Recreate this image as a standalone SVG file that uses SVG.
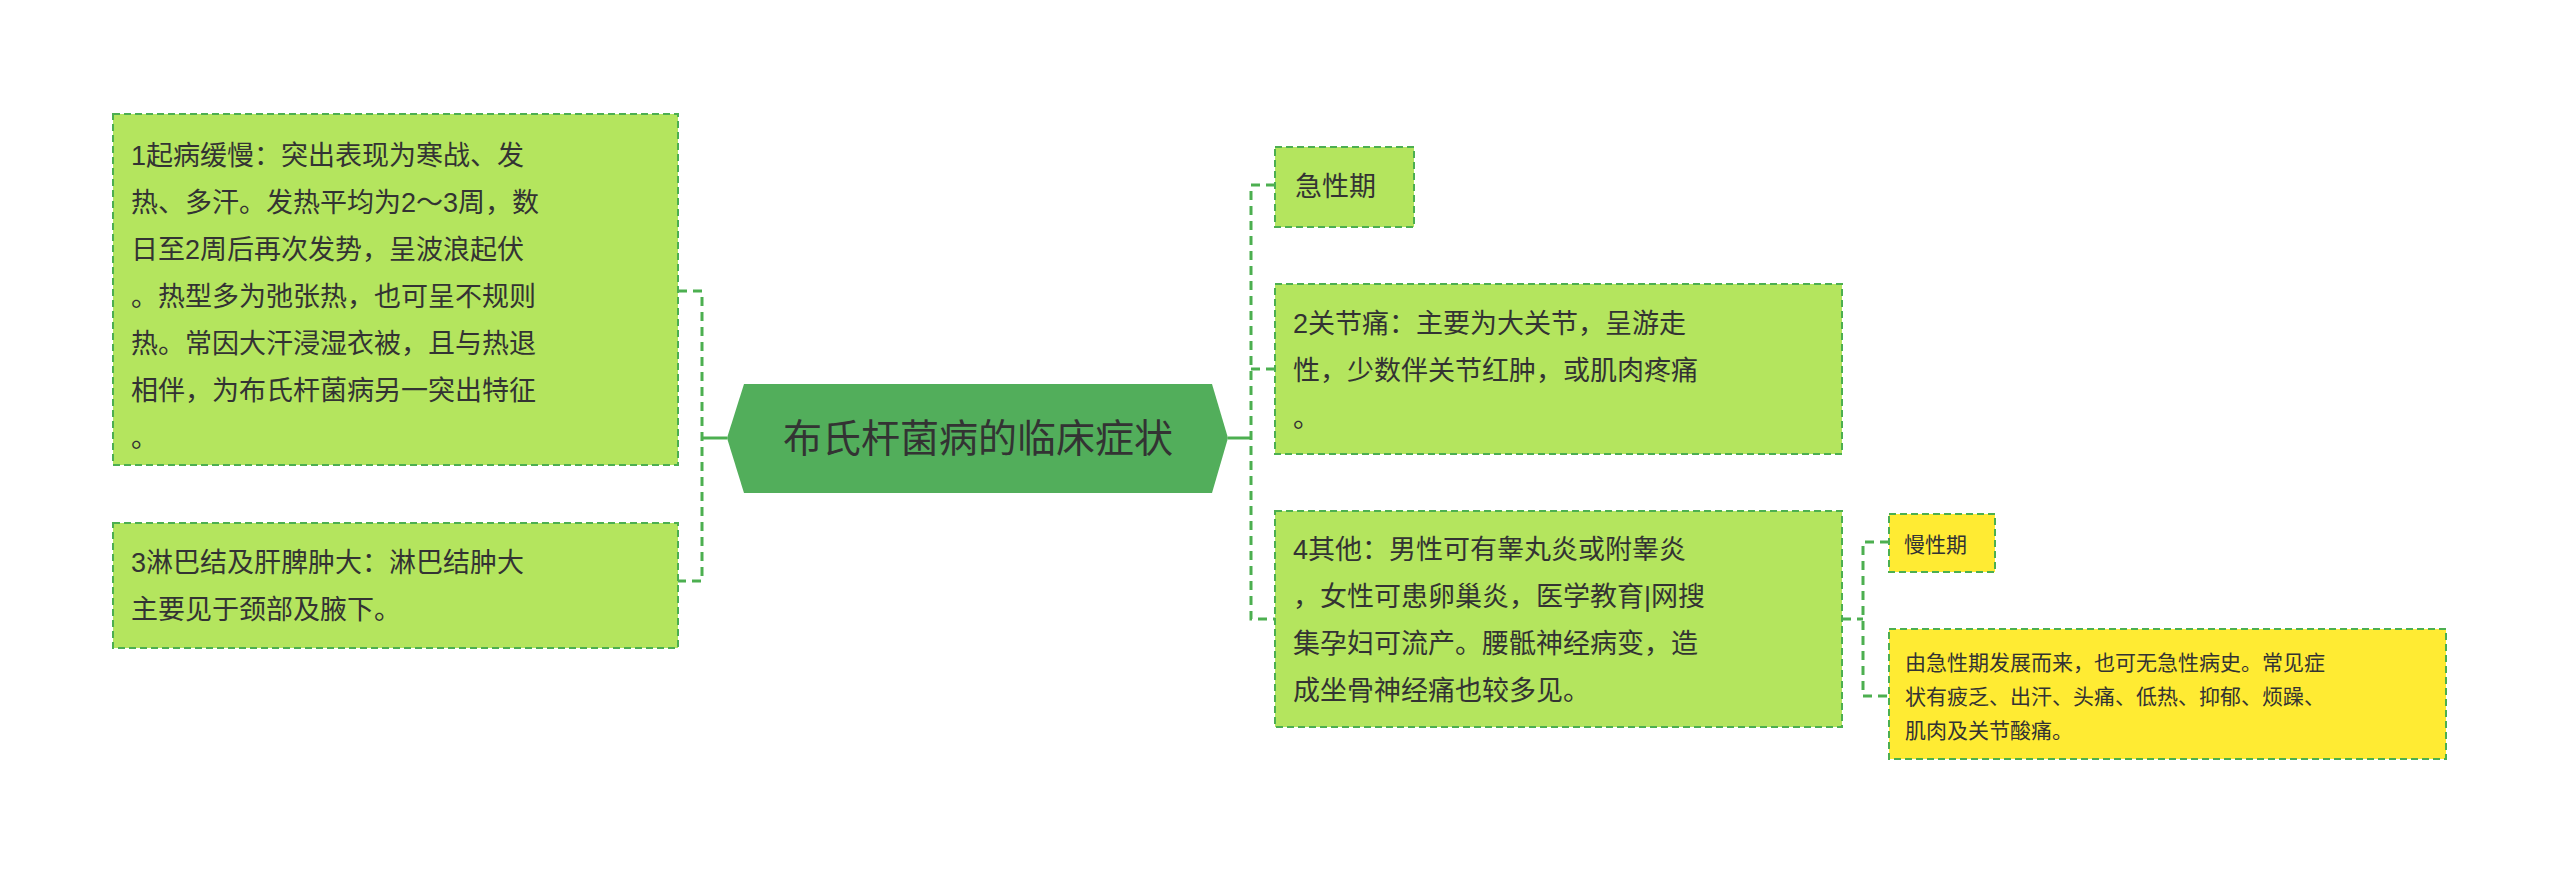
<svg xmlns="http://www.w3.org/2000/svg" width="2560" height="873" viewBox="0 0 2560 873">
<style>
.g{fill:#b4e55e;stroke:#4caf50;stroke-width:2;stroke-dasharray:7,4}
.y{fill:#ffeb33;stroke:#4caf50;stroke-width:2;stroke-dasharray:7,4}
.t{font-family:"Liberation Sans","Noto Sans CJK SC",sans-serif;font-size:27px;fill:#333}
.s{font-family:"Liberation Sans","Noto Sans CJK SC",sans-serif;font-size:21px;fill:#333}
.c{fill:none;stroke:#4caf50;stroke-width:3;stroke-dasharray:9,6}
</style>
<rect width="2560" height="873" fill="#fff"/>
<g id="connectors">
<line x1="727" y1="438" x2="702" y2="438" stroke="#4caf50" stroke-width="3"/>
<path class="c" d="M678 291H702V581H678"/>
<line x1="1228" y1="438" x2="1251" y2="438" stroke="#4caf50" stroke-width="3"/>
<path class="c" d="M1275 185H1251V619H1275M1251 369H1275"/>
<path class="c" d="M1842 619H1863M1889 542H1863V696H1889"/>
</g>
<g id="center">
<polygon points="744,384 1212,384 1228,438 1212,493 744,493 727,438" fill="#52ae5b"/>
<text x="978" y="452" text-anchor="middle" font-family="Liberation Sans,Noto Sans CJK SC,sans-serif" font-size="39" fill="#333">布氏杆菌病的临床症状</text>
</g>
<g id="n1">
<rect class="g" x="113" y="114" width="565" height="351"/>
<text class="t"><tspan x="131" y="165">1起病缓慢：突出表现为寒战、发</tspan><tspan x="131" y="212">热、多汗。发热平均为2～3周，数</tspan><tspan x="131" y="259">日至2周后再次发势，呈波浪起伏</tspan><tspan x="131" y="306">。热型多为弛张热，也可呈不规则</tspan><tspan x="131" y="353">热。常因大汗浸湿衣被，且与热退</tspan><tspan x="131" y="400">相伴，为布氏杆菌病另一突出特征</tspan><tspan x="131" y="447">。</tspan></text>
</g>
<g id="n3">
<rect class="g" x="113" y="523" width="565" height="125"/>
<text class="t"><tspan x="131" y="572">3淋巴结及肝脾肿大：淋巴结肿大</tspan><tspan x="131" y="619">主要见于颈部及腋下。</tspan></text>
</g>
<g id="n0">
<rect class="g" x="1275" y="147" width="139" height="80"/>
<text class="t" x="1295" y="196">急性期</text>
</g>
<g id="n2">
<rect class="g" x="1275" y="284" width="567" height="170"/>
<text class="t"><tspan x="1293" y="333">2关节痛：主要为大关节，呈游走</tspan><tspan x="1293" y="380">性，少数伴关节红肿，或肌肉疼痛</tspan><tspan x="1293" y="427">。</tspan></text>
</g>
<g id="n4">
<rect class="g" x="1275" y="511" width="567" height="216"/>
<text class="t"><tspan x="1293" y="559">4其他：男性可有睾丸炎或附睾炎</tspan><tspan x="1293" y="606">，女性可患卵巢炎，医学教育|网搜</tspan><tspan x="1293" y="653">集孕妇可流产。腰骶神经病变，造</tspan><tspan x="1293" y="700">成坐骨神经痛也较多见。</tspan></text>
</g>
<g id="n5">
<rect class="y" x="1889" y="514" width="106" height="58"/>
<text class="s" x="1904" y="552">慢性期</text>
</g>
<g id="n6">
<rect class="y" x="1889" y="629" width="557" height="130"/>
<text class="s"><tspan x="1905" y="670">由急性期发展而来，也可无急性病史。常见症</tspan><tspan x="1905" y="704">状有疲乏、出汗、头痛、低热、抑郁、烦躁、</tspan><tspan x="1905" y="738">肌肉及关节酸痛。</tspan></text>
</g>
</svg>
